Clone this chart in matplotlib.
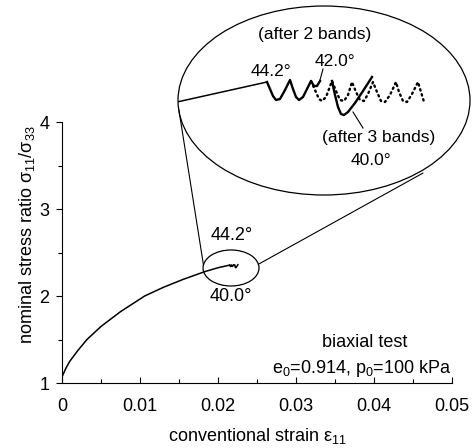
import numpy as np
import matplotlib
matplotlib.use("Agg")
import matplotlib.pyplot as plt
from matplotlib.patches import Ellipse, ConnectionPatch
from matplotlib.ticker import MultipleLocator

plt.rcParams['font.family'] = ['Liberation Sans', 'DejaVu Sans']
plt.rcParams['mathtext.fontset'] = 'custom'
plt.rcParams['mathtext.rm'] = 'Liberation Sans'
plt.rcParams['mathtext.it'] = 'Liberation Sans:italic'

# Stress-strain response of the biaxial test up to the onset of banding
strain_main = [0, 0.00025, 0.0005, 0.001, 0.0015, 0.002, 0.0032, 0.005, 0.0075,
               0.0106, 0.013, 0.0155, 0.0183, 0.0200, 0.0215]
stress_main = [1.07, 1.12, 1.17, 1.25, 1.31, 1.37, 1.50, 1.65, 1.82,
               2.00, 2.10, 2.19, 2.28, 2.325, 2.355]

# Post-localisation branch (solid, bands at 44.2 deg then 42.0 deg)
strain_a = [0.02150, 0.02153, 0.02156, 0.02159, 0.02163, 0.02168, 0.02173, 0.02176,
            0.02179, 0.02182, 0.02186, 0.02190, 0.02194, 0.02197, 0.02200, 0.02203]
stress_a = [2.3550, 2.3487, 2.3424, 2.3388, 2.3397, 2.3478, 2.3568, 2.3487,
            2.3415, 2.3388, 2.3415, 2.3487, 2.3559, 2.3514, 2.3514, 2.3559]

# Continuation after 2 bands (dotted)
strain_b = [0.02194, 0.02198, 0.02202, 0.02205, 0.02209, 0.02215, 0.02219, 0.02223,
            0.02227, 0.02231, 0.02235, 0.02239, 0.02243, 0.02247, 0.02251, 0.02256,
            0.02260, 0.02264, 0.02268, 0.02273, 0.02279, 0.02282, 0.02286, 0.02290,
            0.02295, 0.02301, 0.02304, 0.02307]
stress_b = [2.3559, 2.3478, 2.3397, 2.3379, 2.3415, 2.3559, 2.3469, 2.3388,
            2.3379, 2.3433, 2.3550, 2.3460, 2.3388, 2.3379, 2.3442, 2.3550,
            2.3460, 2.3379, 2.3370, 2.3433, 2.3550, 2.3460, 2.3379, 2.3370,
            2.3442, 2.3550, 2.3460, 2.3370]

# Branch after 3 bands (solid, 40.0 deg)
strain_c = [0.02215, 0.02218, 0.02221, 0.02224, 0.02227, 0.02231, 0.02238, 0.02246, 0.02255]
stress_c = [2.3559, 2.3433, 2.3325, 2.3262, 2.3253, 2.3280, 2.3361, 2.3469, 2.3595]

x_ticks = [0, 0.01, 0.02, 0.03, 0.04, 0.05]
x_ticklabels = ['0', '0.01', '0.02', '0.03', '0.04', '0.05']
y_ticks = [1, 2, 3, 4]

FS = 13

fig = plt.figure(figsize=(4.73, 4.48), dpi=100)
ax = fig.add_axes([62/473, 65/448, 390/473, 261/448])

ax.plot(strain_main, stress_main, color='black', lw=1.1)
ax.plot(strain_a, stress_a, color='black', lw=1.1)
ax.plot(strain_c, stress_c, color='black', lw=1.1)

ax.set_xlim(0, 0.05)
ax.set_ylim(1, 4)
ax.set_xticks(x_ticks)
ax.set_xticklabels(x_ticklabels)
ax.set_yticks(y_ticks)
ax.xaxis.set_minor_locator(MultipleLocator(0.005))
ax.yaxis.set_minor_locator(MultipleLocator(0.5))
ax.tick_params(axis='x', which='both', direction='in', labelsize=FS, pad=11)
ax.tick_params(axis='y', which='both', direction='out', labelsize=FS, pad=5)
ax.tick_params(which='major', length=4, width=0.8)
ax.tick_params(which='minor', length=3, width=0.8)
for s in ('top', 'right'):
    ax.spines[s].set_visible(False)
for s in ('left', 'bottom'):
    ax.spines[s].set_linewidth(0.8)

ax.set_xlabel(r'conventional strain ε$\mathregular{_{11}}$', fontsize=FS, labelpad=8)
ax.set_ylabel(r'nominal stress ratio σ$\mathregular{_{11}}$/σ$\mathregular{_{33}}$', fontsize=FS, labelpad=2)
ax.yaxis.label.set_y(0.567)

ax.text(0.0218, 2.69, '44.2°', fontsize=FS, ha='center', va='center')
ax.text(0.02167, 1.99, '40.0°', fontsize=FS, ha='center', va='center')
ax.text(0.0388, 1.41, 'biaxial test', fontsize=FS, ha='center', va='baseline')
ax.text(0.0500, 1.115, r'e$\mathregular{_0}$=0.914, p$\mathregular{_0}$=100 kPa',
        fontsize=FS, ha='right', va='baseline')

# small ellipse marking the magnified region
ec, ecy = 0.02167, 2.322
ea, eb = 0.00718, 0.414
small = Ellipse((ec, ecy), ea, eb, fill=False, lw=0.9, color='black')
ax.add_patch(small)

# magnified view
axin = fig.add_axes([178/473, (448-195)/448, 292/473, 189/448])
axin.set_xlim(0.02061, 0.02353)
axin.set_ylim(2.2533, 2.4234)
axin.axis('off')
axin.patch.set_visible(False)
big = Ellipse((0.5, 0.5), 1.0, 1.0, transform=axin.transAxes, fill=False, lw=0.9,
              color='black', clip_on=False)
axin.add_patch(big)
clip = Ellipse((0.5, 0.5), 1.0, 1.0, transform=axin.transAxes, fill=False, lw=0)
axin.add_patch(clip)

lines = []
lines += axin.plot(strain_main, stress_main, color='black', lw=1.1)
lines += axin.plot(strain_a, stress_a, color='black', lw=1.7, solid_joinstyle='round')
lines += axin.plot(strain_b, stress_b, color='black', lw=1.7, ls=(0, (0.6, 1.6)),
                   dash_capstyle='round')
lines += axin.plot(strain_c, stress_c, color='black', lw=1.7, solid_joinstyle='round')
for ln in lines:
    ln.set_clip_path(clip)

FSI = 12.5
axin.text(0.02198, 2.3975, '(after 2 bands)', fontsize=FSI, ha='center', va='center')
axin.text(0.02218, 2.3735, '42.0°', fontsize=FSI, ha='center', va='center')
axin.plot([0.02206, 0.02203], [2.3667, 2.3568], color='black', lw=0.8)
axin.text(0.021535, 2.3645, '44.2°', fontsize=FSI, ha='center', va='center')
axin.text(0.02262, 2.3055, '(after 3 bands)', fontsize=FSI, ha='center', va='center')
axin.text(0.02254, 2.2839, '40.0°', fontsize=FSI, ha='center', va='center')
axin.plot([0.02246, 0.02236], [2.3136, 2.3280], color='black', lw=0.8)

# connector lines between the two ellipses
for theta, target in ((np.deg2rad(170), (0.003, 0.45)), (np.deg2rad(12), (0.839, 0.116))):
    p = (ec + ea / 2 * np.cos(theta), ecy + eb / 2 * np.sin(theta))
    con = ConnectionPatch(xyA=p, coordsA=ax.transData, xyB=target, coordsB=axin.transAxes,
                          color='black', lw=0.8)
    fig.add_artist(con)

fig.savefig('out.png', dpi=100)
